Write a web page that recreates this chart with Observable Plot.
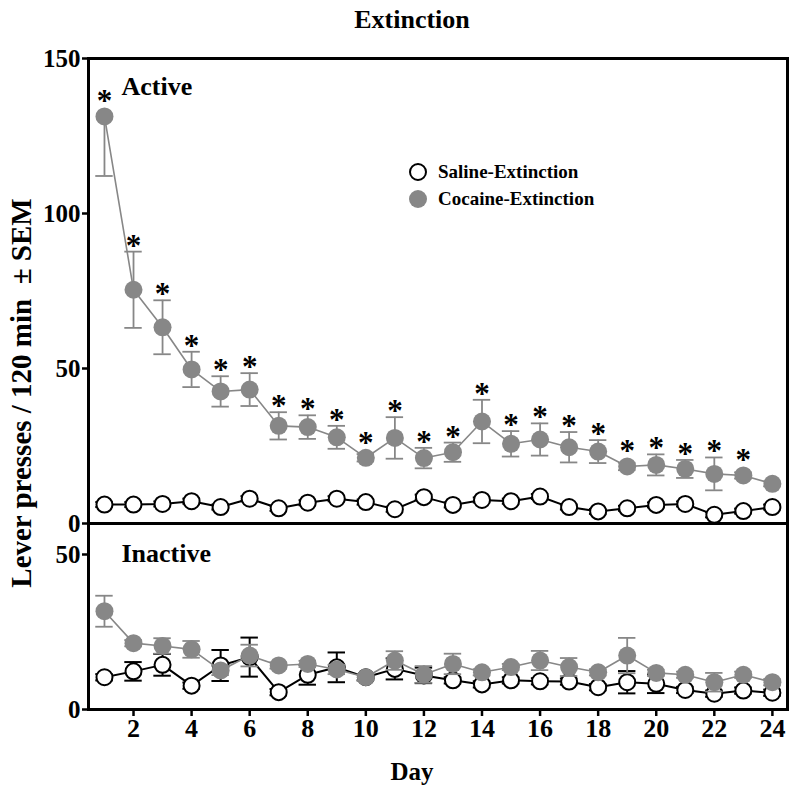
<!DOCTYPE html>
<html>
<head>
<meta charset="utf-8">
<script src="https://cdn.jsdelivr.net/npm/d3@7"></script>
<script src="https://cdn.jsdelivr.net/npm/@observablehq/plot@0.6"></script>
<style>
  html, body { margin: 0; padding: 0; background: white; }
  #wrap { position: relative; width: 800px; height: 795px; overflow: hidden; font-family: "Liberation Serif", "Times New Roman", serif; font-weight: bold; color: black; }
  #wrap > * { position: absolute; }
  #title { left: 0; width: 824px; top: 7px; text-align: center; font-size: 26px; line-height: 26px; }
  #ylab { left: 21px; top: 393px; transform: translate(-50%, -50%) rotate(-90deg); white-space: nowrap; font-size: 29px; line-height: 29px; }
  #xlab { left: 0; width: 824px; top: 759px; text-align: center; font-size: 25px; line-height: 25px; }
  #legend { left: 409px; top: 158px; font-size: 19px; }
  .row { display: flex; align-items: center; height: 27px; }
  .sw { width: 18px; height: 18px; border-radius: 50%; box-sizing: border-box; margin-right: 11px; }
</style>
</head>
<body>
<div id="wrap">
  <div id="title">Extinction</div>
  <div id="ylab">Lever presses / 120 min&nbsp; ± SEM</div>
  <div id="xlab">Day</div>
</div>
<script>
// ---- data ----
const days = [1,2,3,4,5,6,7,8,9,10,11,12,13,14,15,16,17,18,19,20,21,22,23,24];
const seriesNames = ["Saline-Extinction", "Cocaine-Extinction"];

const cocaineActive    = [131.3, 75.4, 63.3, 49.7, 42.6, 43.2, 31.5, 31.1, 27.8, 21.2, 27.6, 21.1, 23.0, 32.9, 25.7, 27.1, 24.6, 23.2, 18.4, 18.9, 17.6, 16.0, 15.5, 12.8];
const cocaineActiveSem = [19.2, 12.3, 8.7, 5.7, 4.9, 5.3, 4.4, 3.8, 3.7, 1.2, 6.7, 3.3, 3.1, 7.0, 4.1, 5.2, 4.9, 3.7, 1.2, 3.4, 2.9, 5.3, 1.0, 0.8];
const salineActive     = [6.1, 6.1, 6.3, 7.2, 5.3, 8.0, 4.9, 6.7, 8.0, 6.9, 4.6, 8.5, 6.0, 7.6, 7.2, 8.7, 5.3, 3.9, 4.9, 6.0, 6.3, 2.8, 4.0, 5.3];
const salineActiveSem  = [0.8, 0.8, 0.8, 0.8, 0.8, 0.8, 0.8, 0.8, 0.8, 0.8, 0.8, 0.8, 0.8, 0.8, 0.8, 0.8, 0.8, 0.8, 0.8, 0.8, 0.8, 0.8, 0.8, 0.8];

const cocaineInactive    = [31.7, 21.4, 20.5, 19.4, 12.6, 17.4, 14.2, 14.7, 12.9, 10.4, 15.8, 11.3, 14.7, 12.0, 13.7, 15.8, 13.7, 12.0, 17.4, 11.8, 11.2, 8.8, 11.2, 8.8];
const cocaineInactiveSem = [5.0, 1.0, 2.5, 2.7, 1.5, 3.5, 1.0, 1.0, 1.5, 1.0, 3.0, 2.7, 3.3, 1.0, 1.0, 3.1, 2.9, 1.0, 5.7, 1.0, 1.0, 3.0, 1.0, 1.0];
const salineInactive     = [10.4, 12.3, 14.4, 7.7, 14.2, 16.9, 5.6, 11.2, 13.6, 10.4, 13.1, 11.0, 9.4, 8.1, 9.4, 9.1, 9.0, 7.2, 8.8, 8.3, 6.3, 5.1, 6.1, 5.4];
const salineInactiveSem  = [1.0, 3.0, 3.5, 1.0, 5.0, 6.3, 1.0, 3.2, 4.8, 1.0, 3.4, 2.5, 1.0, 1.0, 1.0, 1.0, 1.0, 1.0, 3.6, 3.0, 1.0, 1.0, 1.0, 1.0];

const starDays = [1,2,3,4,5,6,7,8,9,10,11,12,13,14,15,16,17,18,19,20,21,22,23];

const xTicks = [2,4,6,8,10,12,14,16,18,20,22,24];
const yTicksActive = [0, 50, 100, 150];
const yTicksInactive = [0, 50];
const activeMax = 150, inactiveMax = 60;

// ---- build tables ----
const table = (vals, sems) => days.map((day, i) => ({day, y: vals[i], sem: sems[i]}));
const cA = table(cocaineActive, cocaineActiveSem);
const sA = table(salineActive, salineActiveSem);
const cI = table(cocaineInactive, cocaineInactiveSem);
const sI = table(salineInactive, salineInactiveSem);

// ---- styling ----
const GRAY = "#878787";
const FONT = "'Liberation Serif', 'Times New Roman', serif";
const R = 9;
const CAP = 0.3;

function errorBars(data, color, sw, ymax) {
  const up = data.filter(d => d.y + d.sem < ymax);
  return [
    Plot.ruleX(up, {x: "day", y1: "y", y2: d => d.y + d.sem, stroke: color, strokeWidth: sw}),
    Plot.ruleY(up, {x1: d => d.day - CAP, x2: d => d.day + CAP, y: d => d.y + d.sem, stroke: color, strokeWidth: sw}),
    Plot.ruleX(data, {x: "day", y1: "y", y2: d => d.y - d.sem, stroke: color, strokeWidth: sw}),
    Plot.ruleY(data, {x1: d => d.day - CAP, x2: d => d.day + CAP, y: d => d.y - d.sem, stroke: color, strokeWidth: sw})
  ];
}
function series(data, kind, ymax) {
  const saline = kind === "saline";
  const color = saline ? "black" : GRAY;
  return [
    ...errorBars(data, color, saline ? 2 : 1.8, ymax),
    Plot.line(data, {x: "day", y: "y", stroke: color, strokeWidth: saline ? 2 : 1.6}),
    Plot.dot(data, {x: "day", y: "y", r: saline ? R - 1 : R, fill: saline ? "white" : GRAY, stroke: saline ? "black" : "none", strokeWidth: 2})
  ];
}

const common = {
  width: 800,
  marginLeft: 88,
  marginRight: 13,
  x: {domain: [0.45, 24.52], axis: null},
  style: {background: "transparent", overflow: "visible", fontFamily: FONT, fontSize: "25px", fontWeight: "bold", color: "black"}
};

const topPlot = Plot.plot({
  ...common,
  height: 535,
  marginTop: 58,
  marginBottom: 12,
  y: {domain: [0, activeMax], axis: null},
  marks: [
    Plot.axisY({ticks: yTicksActive, tickSize: 6, tickPadding: 2, strokeWidth: 2.5, label: null, fontSize: 25}),
    ...series(sA, "saline", activeMax),
    ...series(cA, "cocaine", activeMax),
    Plot.text(cA.filter(d => starDays.includes(d.day)), {
      x: "day",
      y: d => d.y + d.sem < activeMax ? Math.max(d.y + d.sem, d.y + 2.9) : d.y + 2.9,
      text: () => "*", dy: -6, fontSize: 31, fontWeight: "bold"
    }),
    Plot.text(["Active"], {frameAnchor: "top-left", textAnchor: "start", lineAnchor: "top", dx: 33, dy: 18, fontSize: 26, fontWeight: "bold"}),
    Plot.frame({stroke: "black", strokeWidth: 3})
  ]
});

const bottomPlot = Plot.plot({
  ...common,
  height: 282,
  marginTop: 10,
  marginBottom: 86,
  y: {domain: [0, inactiveMax], axis: null},
  marks: [
    Plot.axisY({ticks: yTicksInactive, tickSize: 6, tickPadding: 2, strokeWidth: 2.5, label: null, fontSize: 25}),
    Plot.axisX({ticks: xTicks, tickSize: 7, tickPadding: 2, strokeWidth: 2.5, label: null, fontSize: 26}),
    ...series(sI, "saline", inactiveMax),
    ...series(cI, "cocaine", inactiveMax),
    Plot.text(["Inactive"], {frameAnchor: "top-left", textAnchor: "start", lineAnchor: "top", dx: 33, dy: 20, fontSize: 26, fontWeight: "bold"}),
    Plot.frame({stroke: "black", strokeWidth: 3})
  ]
});

const wrap = document.getElementById("wrap");
bottomPlot.style.left = "0px"; bottomPlot.style.top = "513px";
topPlot.style.left = "0px"; topPlot.style.top = "0px";
wrap.appendChild(bottomPlot);
wrap.appendChild(topPlot);

// legend
const legend = document.createElement("div");
legend.id = "legend";
seriesNames.forEach((name, i) => {
  const row = document.createElement("div");
  row.className = "row";
  const sw = document.createElement("span");
  sw.className = "sw";
  if (i === 0) { sw.style.background = "white"; sw.style.border = "2px solid black"; }
  else { sw.style.background = GRAY; }
  const t = document.createElement("span");
  t.textContent = name;
  row.appendChild(sw); row.appendChild(t);
  legend.appendChild(row);
});
wrap.appendChild(legend);
</script>
</body>
</html>
